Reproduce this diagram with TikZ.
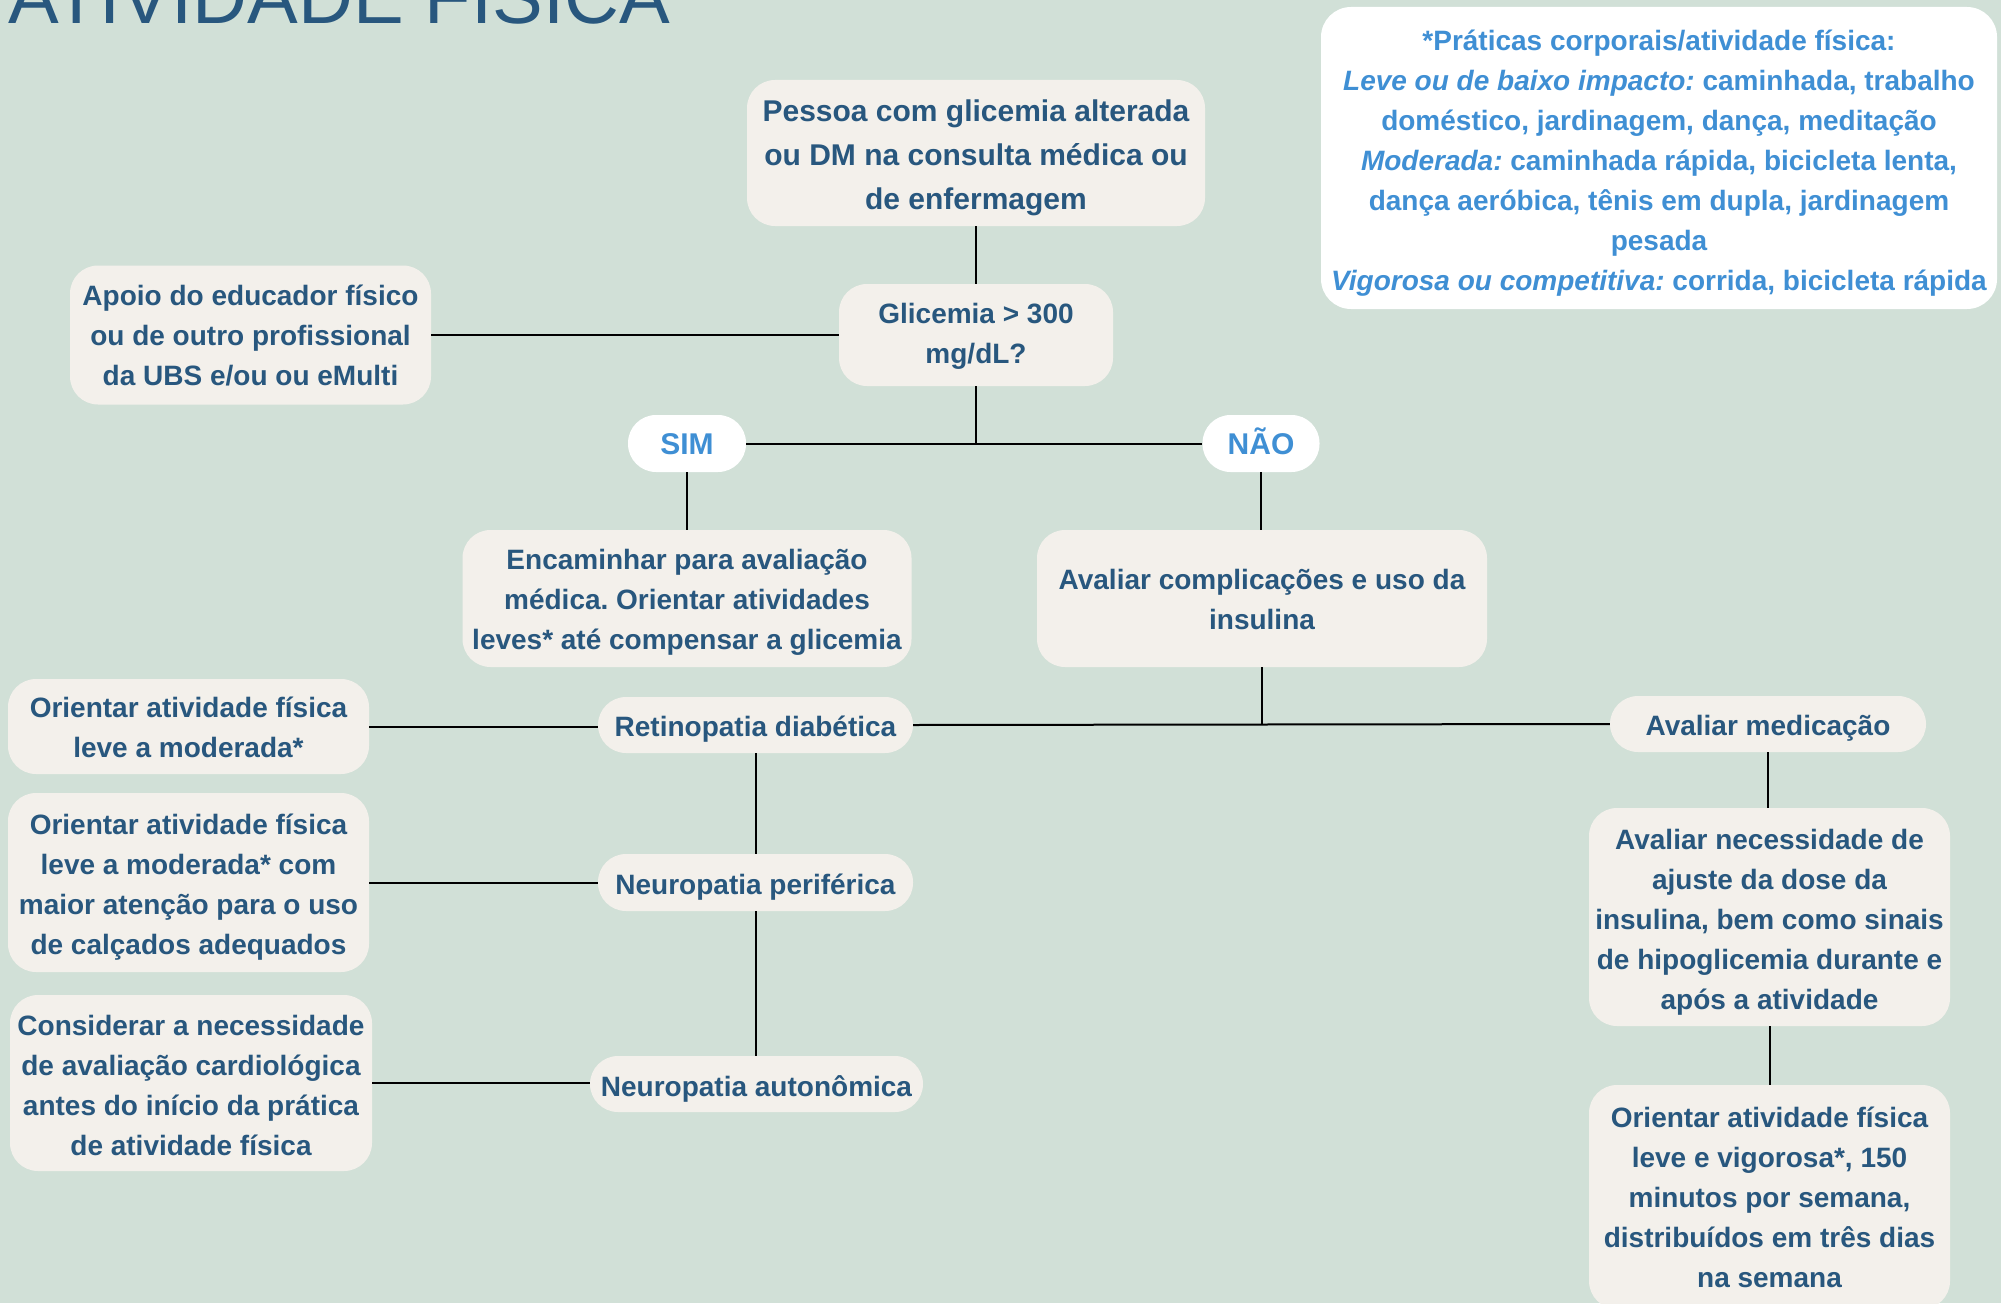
\documentclass[tikz,border=0pt]{standalone}
\usepackage{fontspec}
\setmainfont{Liberation Sans}
\frenchspacing
\definecolor{sage}{RGB}{209,224,215}
\definecolor{paper}{RGB}{243,240,235}
\definecolor{navy}{RGB}{40,87,126}
\definecolor{sky}{RGB}{63,143,212}
% fixed extents for the first and last line of every label
\newcommand{\upstrut}{\rule{0pt}{31pt}}
\newcommand{\downstrut}{\rule[-7pt]{0pt}{0pt}}
\begin{document}
\begin{tikzpicture}[x=1pt,y=-1pt,
  box/.style={fill=paper, rounded corners=28pt, align=center, text=navy,
    font=\bfseries\fontsize{28}{40}\selectfont, inner sep=0pt},
  answer/.style={fill=white, rounded corners=28pt, align=center, text=sky,
    font=\bfseries\fontsize{30}{36}\selectfont, inner sep=0pt},
  link/.style={draw=black, line width=2pt}]

% page and background
\fill[sage] (0,0) rectangle (2001,1303);
\useasboundingbox (0,0) rectangle (2001,1303);

% heading, cut by the top edge
\node[anchor=base west, inner sep=0pt, text=navy,
  font=\fontsize{76}{76}\selectfont] (title) at (8,24) {ATIVIDADE FÍSICA};

% legend of activity levels
\node[fill=white, rounded corners=30pt, align=center, text=sky, inner sep=0pt,
  minimum width=676pt, minimum height=302pt,
  font=\bfseries\fontsize{28}{40}\selectfont] (legend) at (1659,158)
  {\upstrut*Práticas corporais/atividade física:\\
   \textit{Leve ou de baixo impacto:} caminhada, trabalho\\
   doméstico, jardinagem, dança, meditação\\
   \textit{Moderada:} caminhada rápida, bicicleta lenta,\\
   dança aeróbica, tênis em dupla, jardinagem\\
   pesada\\
   \textit{Vigorosa ou competitiva:} corrida, bicicleta rápida\downstrut};

% flow nodes
\node[box, minimum width=458pt, minimum height=146pt,
  font=\bfseries\fontsize{30}{44}\selectfont] (top) at (976,153)
  {\upstrut Pessoa com glicemia alterada\\ou DM na consulta médica ou\\de enfermagem\downstrut};
\node[box, minimum width=274pt, minimum height=102pt] (glic) at (976,335)
  {\rule{0pt}{23pt}Glicemia > 300\\mg/dL?\downstrut};
\node[box, minimum width=361pt, minimum height=139pt] (apoio) at (250.5,335)
  {\rule{0pt}{27pt}Apoio do educador físico\\ou de outro profissional\\da UBS e/ou ou eMulti\downstrut};
\node[answer, minimum width=118pt, minimum height=57pt] (sim) at (687,443.5)
  {\rule{0pt}{28pt}SIM\rule[-6pt]{0pt}{0pt}};
\node[answer, minimum width=117pt, minimum height=57pt] (nao) at (1261,443.5)
  {\rule{0pt}{28pt}NÃO\rule[-6pt]{0pt}{0pt}};
\node[box, minimum width=449pt, minimum height=137pt] (encam) at (687,598.5)
  {\rule{0pt}{28pt}Encaminhar para avaliação\\médica. Orientar atividades\\leves* até compensar a glicemia\downstrut};
\node[box, minimum width=450pt, minimum height=137pt] (avalcomp) at (1262,598.5)
  {\rule{0pt}{28pt}Avaliar complicações e uso da\\insulina\downstrut};
\node[box, minimum width=315pt, minimum height=56pt] (retino) at (755.5,725)
  {\rule{0pt}{29pt}Retinopatia diabética\downstrut};
\node[box, minimum width=315pt, minimum height=57pt] (neuroper) at (755.5,882.5)
  {\upstrut Neuropatia periférica\downstrut};
\node[box, minimum width=333pt, minimum height=56pt] (neuroaut) at (756.5,1084)
  {\upstrut Neuropatia autonômica\downstrut};
\node[box, minimum width=316pt, minimum height=56pt] (avalmed) at (1768,724)
  {\rule{0pt}{29pt}Avaliar medicação\downstrut};
\node[box, minimum width=361pt, minimum height=95pt] (orient1) at (188.5,726.5)
  {\rule{0pt}{29pt}Orientar atividade física\\leve a moderada*\downstrut};
\node[box, minimum width=361pt, minimum height=179pt] (orient2) at (188.5,882.5)
  {\upstrut Orientar atividade física\\leve a moderada* com\\maior atenção para o uso\\de calçados adequados\downstrut};
\node[box, minimum width=362pt, minimum height=176pt] (consid) at (191,1083)
  {\upstrut Considerar a necessidade\\de avaliação cardiológica\\antes do início da prática\\de atividade física\downstrut};
\node[box, minimum width=361pt, minimum height=218pt] (avalnec) at (1769.5,917)
  {\upstrut Avaliar necessidade de\\ajuste da dose da\\insulina, bem como sinais\\de hipoglicemia durante e\\após a atividade\downstrut};
\node[box, minimum width=361pt, minimum height=224pt] (orient3) at (1769.5,1197)
  {\rule{0pt}{27pt}Orientar atividade física\\leve e vigorosa*, 150\\minutos por semana,\\distribuídos em três dias\\na semana\downstrut};

% connectors
\coordinate (jglic) at (glic.south |- sim.east);
\coordinate (jcomp) at (avalcomp.south |- avalmed.west);
\draw[link] (top.south) -- (glic.north);
\draw[link] (apoio.east) -- (glic.west);
\draw[link] (glic.south) -- (jglic);
\draw[link] (sim.east) -- (nao.west);
\draw[link] (sim.south) -- (sim.south |- encam.north);
\draw[link] (nao.south) -- (nao.south |- avalcomp.north);
\draw[link] (avalcomp.south) -- (jcomp);
\draw[link] (retino.east) -- (avalmed.west);
\draw[link] (orient1.east) -- (orient1.east -| retino.west);
\draw[link] (orient2.east) -- (orient2.east -| neuroper.west);
\draw[link] (consid.east) -- (consid.east -| neuroaut.west);
\draw[link] (retino.south) -- (neuroper.north);
\draw[link] (neuroper.south) -- (neuroper.south |- neuroaut.north);
\draw[link] (avalmed.south) -- (avalmed.south |- avalnec.north);
\draw[link] (avalnec.south) -- (avalnec.south |- orient3.north);
\end{tikzpicture}
\end{document}
